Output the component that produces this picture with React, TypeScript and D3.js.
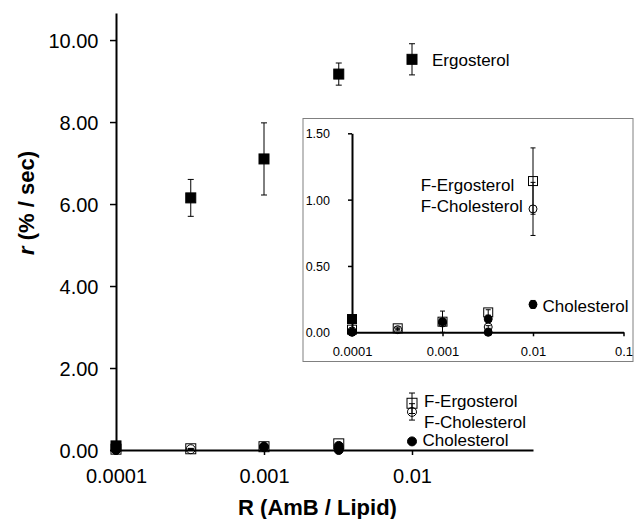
import * as d3 from "d3";
import React, { useEffect, useRef } from "react";

// R (AmB / Lipid) values
const ratios = [0.0001, 0.00032, 0.001, 0.0032, 0.01];

// rates, % / sec
const ergosterol = [0.1, 6.15, 7.1, 9.17, 9.53];
const ergosterolErr = [0.02, 0.45, 0.88, 0.27, 0.38];
const fErgosterol = [0.02, 0.03, 0.08, 0.15, 1.14];
const fErgosterolErr = [0.01, 0.01, 0.02, 0.02, 0.25];
const fCholesterol = [0.01, 0.02, 0.07, 0.04, 0.93];
const fCholesterolErr = [0.01, 0.01, 0.01, 0.01, 0.2];
const cholesterolRatios = [0.0001, 0.001, 0.0032, 0.0032, 0.01];
const cholesterol = [0.0, 0.08, 0.0, 0.1, 0.21];
const cholesterolErr = [0.0, 0.08, 0.0, 0.02, 0.03];

const mainYTicks = [0, 2, 4, 6, 8, 10];
const mainXTicks = [0.0001, 0.001, 0.01];
const mainXLabels = ["0.0001", "0.001", "0.01"];
const insetYTicks = [0, 0.5, 1, 1.5];
const insetXTicks = [0.0001, 0.001, 0.01, 0.1];
const insetXLabels = ["0.0001", "0.001", "0.01", "0.1"];

const FONT = "'Liberation Sans', Arial, sans-serif";

const App = () => {
  const ref = useRef(null);

  useEffect(() => {
    const svg = d3.select(ref.current);
    svg.selectAll("*").remove();
    draw(svg);
  }, []);

  const draw = (svg) => {
    const series = [
      { name: "F-Cholesterol", xs: ratios, ys: fCholesterol, err: fCholesterolErr, shape: "circle", filled: false },
      { name: "F-Ergosterol", xs: ratios, ys: fErgosterol, err: fErgosterolErr, shape: "square", filled: false },
      { name: "Cholesterol", xs: cholesterolRatios, ys: cholesterol, err: cholesterolErr, shape: "circle", filled: true },
      { name: "Ergosterol", xs: ratios, ys: ergosterol, err: ergosterolErr, shape: "square", filled: true },
    ];

    const plotSeries = (g, x, y, yMax, size, cap) => {
      series.forEach((s) => {
        const pts = s.xs
          .map((xv, i) => ({ x: xv, y: s.ys[i], e: s.err[i] }))
          .filter((d) => d.y <= yMax);
        const grp = g.append("g");
        // error bars
        pts.forEach((d) => {
          if (!d.e) return;
          const cx = x(d.x);
          const top = y(Math.min(d.y + d.e, yMax));
          const bot = y(Math.max(d.y - d.e, 0));
          grp.append("line").attr("x1", cx).attr("x2", cx).attr("y1", top).attr("y2", bot)
            .attr("stroke", "#000").attr("stroke-width", 1);
          [top, bot].forEach((yy) => {
            grp.append("line").attr("x1", cx - cap / 2).attr("x2", cx + cap / 2)
              .attr("y1", yy).attr("y2", yy).attr("stroke", "#000").attr("stroke-width", 1);
          });
        });
        // markers
        pts.forEach((d) => {
          const cx = x(d.x);
          const cy = y(d.y);
          if (s.shape === "square") {
            grp.append("rect")
              .attr("x", cx - size / 2).attr("y", cy - size / 2)
              .attr("width", size).attr("height", size)
              .attr("fill", s.filled ? "#000" : "none")
              .attr("stroke", "#000").attr("stroke-width", 1);
          } else {
            grp.append("circle")
              .attr("cx", cx).attr("cy", cy).attr("r", size / 2 - 0.5)
              .attr("fill", s.filled ? "#000" : "none")
              .attr("stroke", "#000").attr("stroke-width", 1);
          }
        });
      });
    };

    const styleAxis = (g, size) => {
      g.attr("font-family", FONT).attr("font-size", size);
      g.select(".domain").attr("stroke", "#000").attr("stroke-width", 2);
      g.selectAll(".tick line").attr("stroke", "#000").attr("stroke-width", 1.5);
      g.selectAll(".tick text").attr("fill", "#000");
    };

    // ---------- main chart ----------
    const x = d3.scaleLog().domain([0.0001, 0.0657]).range([116, 533]);
    const y = d3.scaleLinear().domain([0, 10.66]).range([450, 13]);

    const yAxis = svg.append("g").attr("transform", "translate(116,0)")
      .call(d3.axisLeft(y).tickValues(mainYTicks).tickSize(6).tickSizeOuter(0)
        .tickPadding(11.5).tickFormat((d) => d3.format(".2f")(d)));
    styleAxis(yAxis, 20);
    yAxis.selectAll(".tick text").attr("dy", "0.38em");

    const xAxis = svg.append("g").attr("transform", "translate(0,450)")
      .call(d3.axisBottom(x).tickValues(mainXTicks).tickSize(5).tickSizeOuter(0)
        .tickPadding(13.5).tickFormat((d, i) => mainXLabels[i]));
    styleAxis(xAxis, 20);

    plotSeries(svg.append("g"), x, y, 11, 10, 6);

    const label = (g, text, lx, ly, size) =>
      g.append("text").attr("x", lx).attr("y", ly).attr("font-family", FONT)
        .attr("font-size", size).attr("fill", "#000").text(text);

    label(svg, "Ergosterol", x(0.01) + 20, y(9.53) + 6.5, 17);
    label(svg, "F-Ergosterol", x(0.01) + 12, y(1.14) + 4, 17);
    label(svg, "F-Cholesterol", x(0.01) + 12, y(0.93) + 16.5, 17);
    label(svg, "Cholesterol", x(0.01) + 10.5, y(0.21) + 4.5, 17);

    // axis titles
    svg.append("text")
      .attr("x", 317.5).attr("y", 515).attr("text-anchor", "middle")
      .attr("font-family", FONT).attr("font-size", 22).attr("font-weight", "bold")
      .text("R (AmB / Lipid)");

    const yt = svg.append("text")
      .attr("transform", "translate(34,203) rotate(-90)")
      .attr("text-anchor", "middle")
      .attr("font-family", FONT).attr("font-size", 22).attr("font-weight", "bold");
    yt.append("tspan").attr("font-style", "italic").text("r");
    yt.append("tspan").text(" (% / sec)");

    // ---------- inset ----------
    const inset = svg.append("g");
    inset.append("rect")
      .attr("x", 303).attr("y", 118.5).attr("width", 330).attr("height", 243)
      .attr("fill", "#fff").attr("stroke", "#808080").attr("stroke-width", 1);

    const ix = d3.scaleLog().domain([0.0001, 0.1]).range([352, 623.5]);
    const iy = d3.scaleLinear().domain([0, 1.5]).range([332.3, 133.3]);

    const iyAxis = inset.append("g").attr("transform", "translate(352,0)")
      .call(d3.axisLeft(iy).tickValues(insetYTicks).tickSize(4).tickSizeOuter(0)
        .tickPadding(18).tickFormat((d) => d3.format(".2f")(d)));
    styleAxis(iyAxis, 12.5);
    iyAxis.selectAll(".tick text").attr("dy", "0.36em");

    const ixAxis = inset.append("g").attr("transform", "translate(0,332.3)")
      .call(d3.axisBottom(ix).tickValues(insetXTicks).tickSize(4).tickSizeOuter(0)
        .tickPadding(10.5).tickFormat((d, i) => insetXLabels[i]));
    styleAxis(ixAxis, 13);

    plotSeries(inset.append("g"), ix, iy, 1.5, 9, 5);

    label(inset, "F-Ergosterol", 420.7, 190.7, 17);
    label(inset, "F-Cholesterol", 420.7, 211.7, 17);
    label(inset, "Cholesterol", ix(0.01) + 9.5, iy(0.21) + 7.5, 17);
  };

  return (
    <div style={{ position: "absolute", left: 0, top: 0 }}>
      <svg ref={ref} width={634} height={519} style={{ display: "block", background: "#fff" }} />
    </div>
  );
};

export default App;
